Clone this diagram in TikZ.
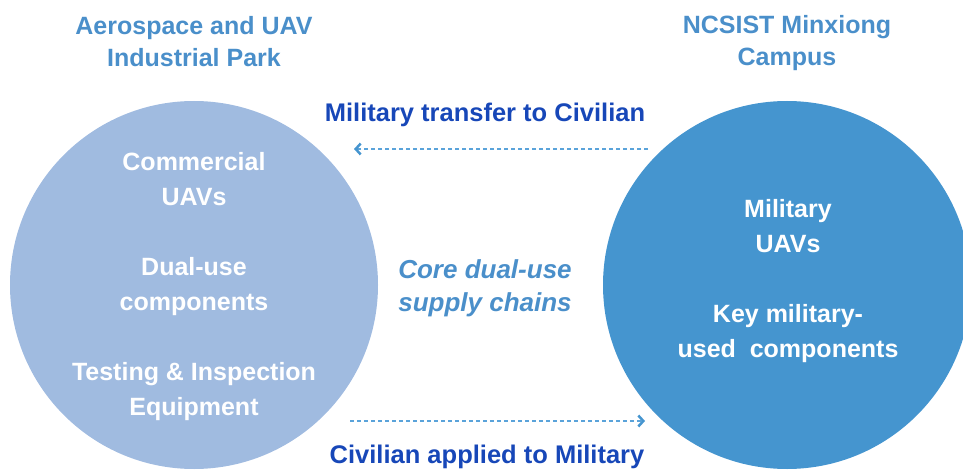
\documentclass[tikz,border=0pt]{standalone}
\usepackage{fontspec}
\setmainfont{Liberation Sans}
\usetikzlibrary{positioning,arrows.meta}
\usepackage{xcolor}
\definecolor{civblue}{HTML}{A0BBE0}
\definecolor{milblue}{HTML}{4595CF}
\definecolor{headblue}{HTML}{4A8FCA}
\definecolor{flowblue}{HTML}{1747B8}
\definecolor{dashblue}{HTML}{5AA3DA}

\begin{document}
\begin{tikzpicture}[x=1pt, y=-1pt, line width=1.5pt,
    zone/.style={circle, minimum size=368pt, inner sep=0pt},
    ztext/.style={text=white, font=\fontsize{25}{35}\selectfont\bfseries, align=center},
    head/.style={text=headblue, font=\fontsize{25}{32}\selectfont\bfseries, align=center},
    flowlabel/.style={text=flowblue, font=\fontsize{25.5}{30}\selectfont\bfseries},
    core/.style={text=headblue, font=\fontsize{26}{33}\selectfont\bfseries\itshape, align=center},
    flow/.style={draw=dashblue, dash pattern=on 4pt off 3pt, -{Straight Barb[length=5pt,width=11pt,line width=2.5pt,color=milblue]}}]
        \useasboundingbox (0,0) rectangle (963,470);
        % the two parks
        \node[zone, fill=civblue] (civ) at (194,285) {};
        \node[zone, fill=milblue] (mil) at (787,285) {};
        \node[head, above=29pt of civ] (civhead) {Aerospace and UAV\\Industrial Park};
        \node[head, above=25pt of mil] (milhead) {NCSIST Minxiong\\Campus};
        \node[ztext] (civtxt) at (194,287) {Commercial\\UAVs\\[35pt]Dual-use\\components\\[35pt]Testing \& Inspection\\Equipment};
        \node[ztext] (miltxt) at (788,281) {Military\\UAVs\\[35pt]Key military-\\used~ components};
        % flows in between
        \node[core] (core) at (485,288) {Core dual-use\\supply chains};
        \node[flowlabel] (m2c) at (485,115) {Military transfer to Civilian};
        \node[flowlabel] (c2m) at (487,457) {Civilian applied to Military};
        \coordinate (m2cs) at (648,149);
        \coordinate (m2ce) at (354,149);
        \coordinate (c2ms) at (350,421);
        \coordinate (c2me) at (645,421);
        \draw[flow] (m2cs) -- (m2ce);
        \draw[flow] (c2ms) -- (c2me);
    \end{tikzpicture}
\end{document}
